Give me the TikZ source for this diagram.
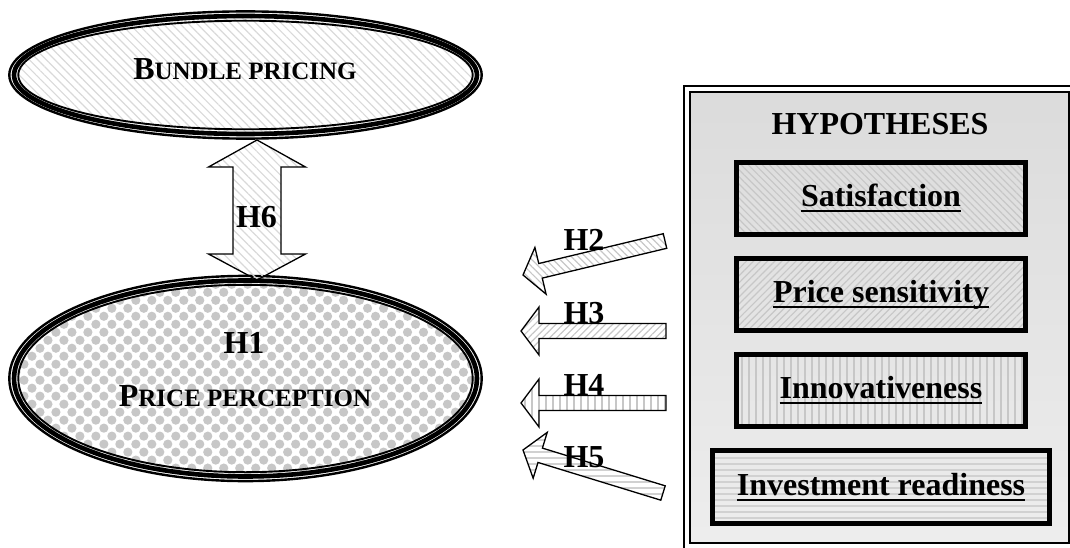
\documentclass[tikz,border=0pt]{standalone}
\usepackage{fontspec}
\setmainfont{Liberation Serif}
\usetikzlibrary{calc,patterns,patterns.meta,shapes.geometric}

% capital followed by reduced capitals
\newcommand\capword[2]{#1{\fontsize{25}{30}\selectfont #2}}
% underline at a fixed distance below the baseline
\newcommand\ulword[1]{\setbox0\hbox{#1}\rlap{\vrule height -3.5pt depth 5.8pt width \wd0}\box0}
% block arrow: tip, tail, head length, head half-width, shaft half-width, style
\newcommand\fatarrow[6]{%
  \draw[#6] (#1) -- ($(#1)!#3!(#2)!#4!90:(#2)$) -- ($(#1)!#3!(#2)!#5!90:(#2)$)
    -- ($(#2)!#5!-90:(#1)$) -- ($(#2)!#5!90:(#1)$)
    -- ($(#1)!#3!(#2)!#5!-90:(#2)$) -- ($(#1)!#3!(#2)!#4!-90:(#2)$) -- cycle;}

\tikzset{
  txt/.style={font=\fontsize{32}{38}\selectfont\bfseries, inner sep=0pt},
  hypbox/.style={draw, line width=5pt, inner sep=0pt, fill=white,
    text height=23pt, text depth=7pt, minimum width=289pt, minimum height=72pt,
    font=\fontsize{32}{38}\selectfont\bfseries},
  blockarrow/.style={draw, line width=1.3pt, line join=miter},
  diagdown/.style={pattern={Lines[angle=-45,distance=5pt,line width=1.2pt]}, pattern color=black!22},
  diagup/.style={pattern={Lines[angle=45,distance=5pt,line width=1.2pt]}, pattern color=black!22},
  vlines/.style={pattern={Lines[angle=90,distance=7pt,line width=1.5pt]}, pattern color=black!22},
  hlines/.style={pattern={Lines[angle=0,distance=6pt,line width=1.5pt]}, pattern color=black!18},
  bubbles/.style={pattern={Dots[distance=11.3pt,radius=4.6pt,angle=45]}, pattern color=black!22},
  rimouter/.style={line width=2.4pt},
  riminner/.style={line width=1.9pt},
}

\begin{document}
\begin{tikzpicture}[x=1pt,y=-1pt]
\useasboundingbox (0,0) rectangle (1070,548);

% ---- top ellipse: bundle pricing
\node[ellipse, draw, line width=4.6pt, minimum width=463pt, minimum height=118pt,
      pattern={Lines[angle=-45,distance=6pt,line width=1.2pt]}, pattern color=black!15]
      (bundle) at (245.5,75) {};
\draw[rimouter] (bundle.center) ellipse [x radius=236.2, y radius=63.6];
\draw[riminner] (bundle.center) ellipse [x radius=227.2, y radius=54.3];
\node[txt, anchor=base] (bundletext) at (245,80) {\capword{B}{UNDLE PRICING}};

% ---- bottom ellipse: price perception
\node[ellipse, draw, line width=4.6pt, minimum width=463pt, minimum height=196pt, fill=white, bubbles]
      (perception) at (245.5,378.5) {};
\draw[rimouter] (perception.center) ellipse [x radius=236.2, y radius=102.6];
\draw[riminner] (perception.center) ellipse [x radius=227.2, y radius=93.7];
\node[txt, anchor=base] (h1) at (244,353) {H1};
\node[txt, anchor=base] (perceptiontext) at (245,406) {\capword{P}{RICE PERCEPTION}};

% ---- H6 double arrow between the ellipses
\coordinate (h6top) at (257,140);
\coordinate (h6bot) at (257,280);
\draw[blockarrow, pattern={Lines[angle=-45,distance=6pt,line width=1.2pt]}, pattern color=black!15]
  (h6top) -- ($(h6top)+(-48.5,27)$) -- ($(h6top)+(-24,27)$) -- ($(h6bot)+(-24,-26)$)
  -- ($(h6bot)+(-48.5,-26)$) -- (h6bot) -- ($(h6bot)+(48.5,-26)$) -- ($(h6bot)+(24,-26)$)
  -- ($(h6top)+(24,27)$) -- ($(h6top)+(48.5,27)$) -- cycle;
\node[txt, anchor=base] (h6) at (256.5,227) {H6};

% ---- hypotheses panel
\node[draw, line width=2pt, rectangle, inner sep=0pt, minimum width=379pt, minimum height=450.5pt,
      top color=black!14, bottom color=black!7] (panel) at (879.5,317.75) {};
\draw[line width=1.3pt] ($(panel.north west)+(-5,-5.5)$) rectangle ($(panel.south east)+(8,8)$);
\node[txt, anchor=base] (hyptitle) at (880,135) {HYPOTHESES};

\node[hypbox, diagdown] (satisfaction) at (881,198.5) {\ulword{Satisfaction}};
\node[hypbox, diagup] (sensitivity) at (881,294.5) {\ulword{Price sensitivity}};
\node[hypbox, vlines] (innovativeness) at (881,390.5) {\ulword{Innovativeness}};
\node[hypbox, hlines, minimum width=337pt, minimum height=73pt] (readiness) at (881,487)
  {\ulword{Investment readiness}};

% ---- block arrows H2 to H5
\coordinate (h2tip) at (523,275);  \coordinate (h2tail) at (665,241);
\coordinate (h3tip) at (521,331);  \coordinate (h3tail) at (666,331);
\coordinate (h4tip) at (521,403);  \coordinate (h4tail) at (666,403);
\coordinate (h5tip) at (523,450);  \coordinate (h5tail) at (663,493);
\fatarrow{h2tip}{h2tail}{18pt}{24pt}{7.5pt}{blockarrow, diagdown}
\fatarrow{h3tip}{h3tail}{18pt}{24pt}{7.5pt}{blockarrow, diagup}
\fatarrow{h4tip}{h4tail}{18pt}{24pt}{7.5pt}{blockarrow, vlines}
\fatarrow{h5tip}{h5tail}{18pt}{24pt}{7.5pt}{blockarrow, hlines}
\node[txt, anchor=base] (h2) at (584,250) {H2};
\node[txt, anchor=base] (h3) at (584,323) {H3};
\node[txt, anchor=base] (h4) at (584,395) {H4};
\node[txt, anchor=base] (h5) at (584,467) {H5};
\end{tikzpicture}
\end{document}
